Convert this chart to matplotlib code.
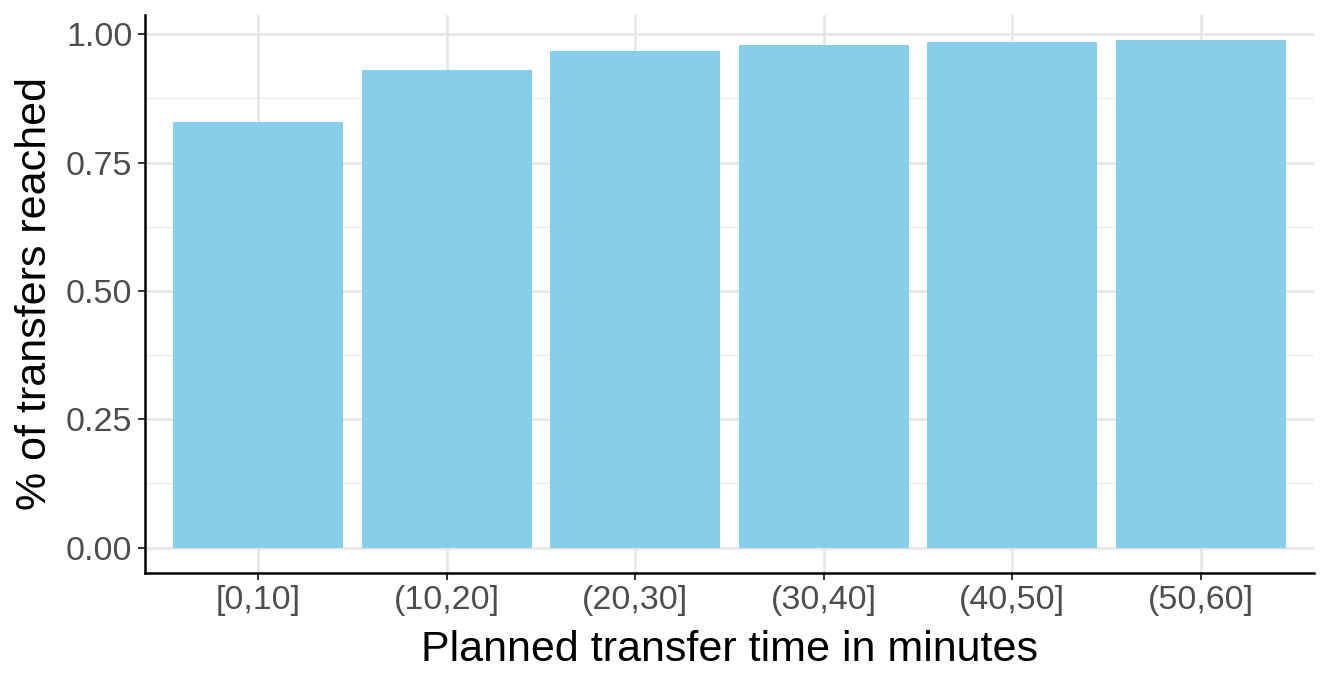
import matplotlib
matplotlib.use("Agg")
import matplotlib.pyplot as plt
import numpy as np

categories = ["[0,10]", "(10,20]", "(20,30]", "(30,40]", "(40,50]", "(50,60]"]
share_reached = [0.829, 0.930, 0.967, 0.979, 0.984, 0.988]
y_ticks = [0.00, 0.25, 0.50, 0.75, 1.00]
y_minor = [0.125, 0.375, 0.625, 0.875]

plt.rcParams['font.family'] = ['Liberation Sans', 'DejaVu Sans']

fig = plt.figure(figsize=(13.29, 6.85), dpi=100)
ax = fig.add_axes([145 / 1329, 1 - 573 / 685, (1314 - 145) / 1329, (573 - 15) / 685])

x = np.arange(len(categories))
ax.bar(x, share_reached, width=0.9, color="#87CEEB", zorder=3)

ax.set_xlim(-0.6, len(categories) - 1 + 0.6)
ymax = max(share_reached)
ax.set_ylim(-0.05 * ymax, ymax * 1.05)

ax.set_xticks(x)
ax.set_xticklabels(categories)
ax.set_yticks(y_ticks)
ax.set_yticklabels([f"{v:.2f}" for v in y_ticks])
ax.set_yticks(y_minor, minor=True)

ax.grid(True, which="major", color="#E5E5E5", linewidth=1.8, zorder=0)
ax.grid(True, which="minor", axis="y", color="#EBEBEB", linewidth=0.9, zorder=0)
ax.tick_params(which="minor", length=0)
ax.tick_params(which="major", length=5, width=1.4, color="#333333",
               labelsize=24.5, labelcolor="#4D4D4D", pad=4)

for side in ["top", "right"]:
    ax.spines[side].set_visible(False)
for side in ["left", "bottom"]:
    ax.spines[side].set_linewidth(1.8)
    ax.spines[side].set_color("black")

ax.set_xlabel("Planned transfer time in minutes", fontsize=31, labelpad=10)
ax.set_ylabel("% of transfers reached", fontsize=31, labelpad=8)

fig.savefig("out.png", dpi=100)
